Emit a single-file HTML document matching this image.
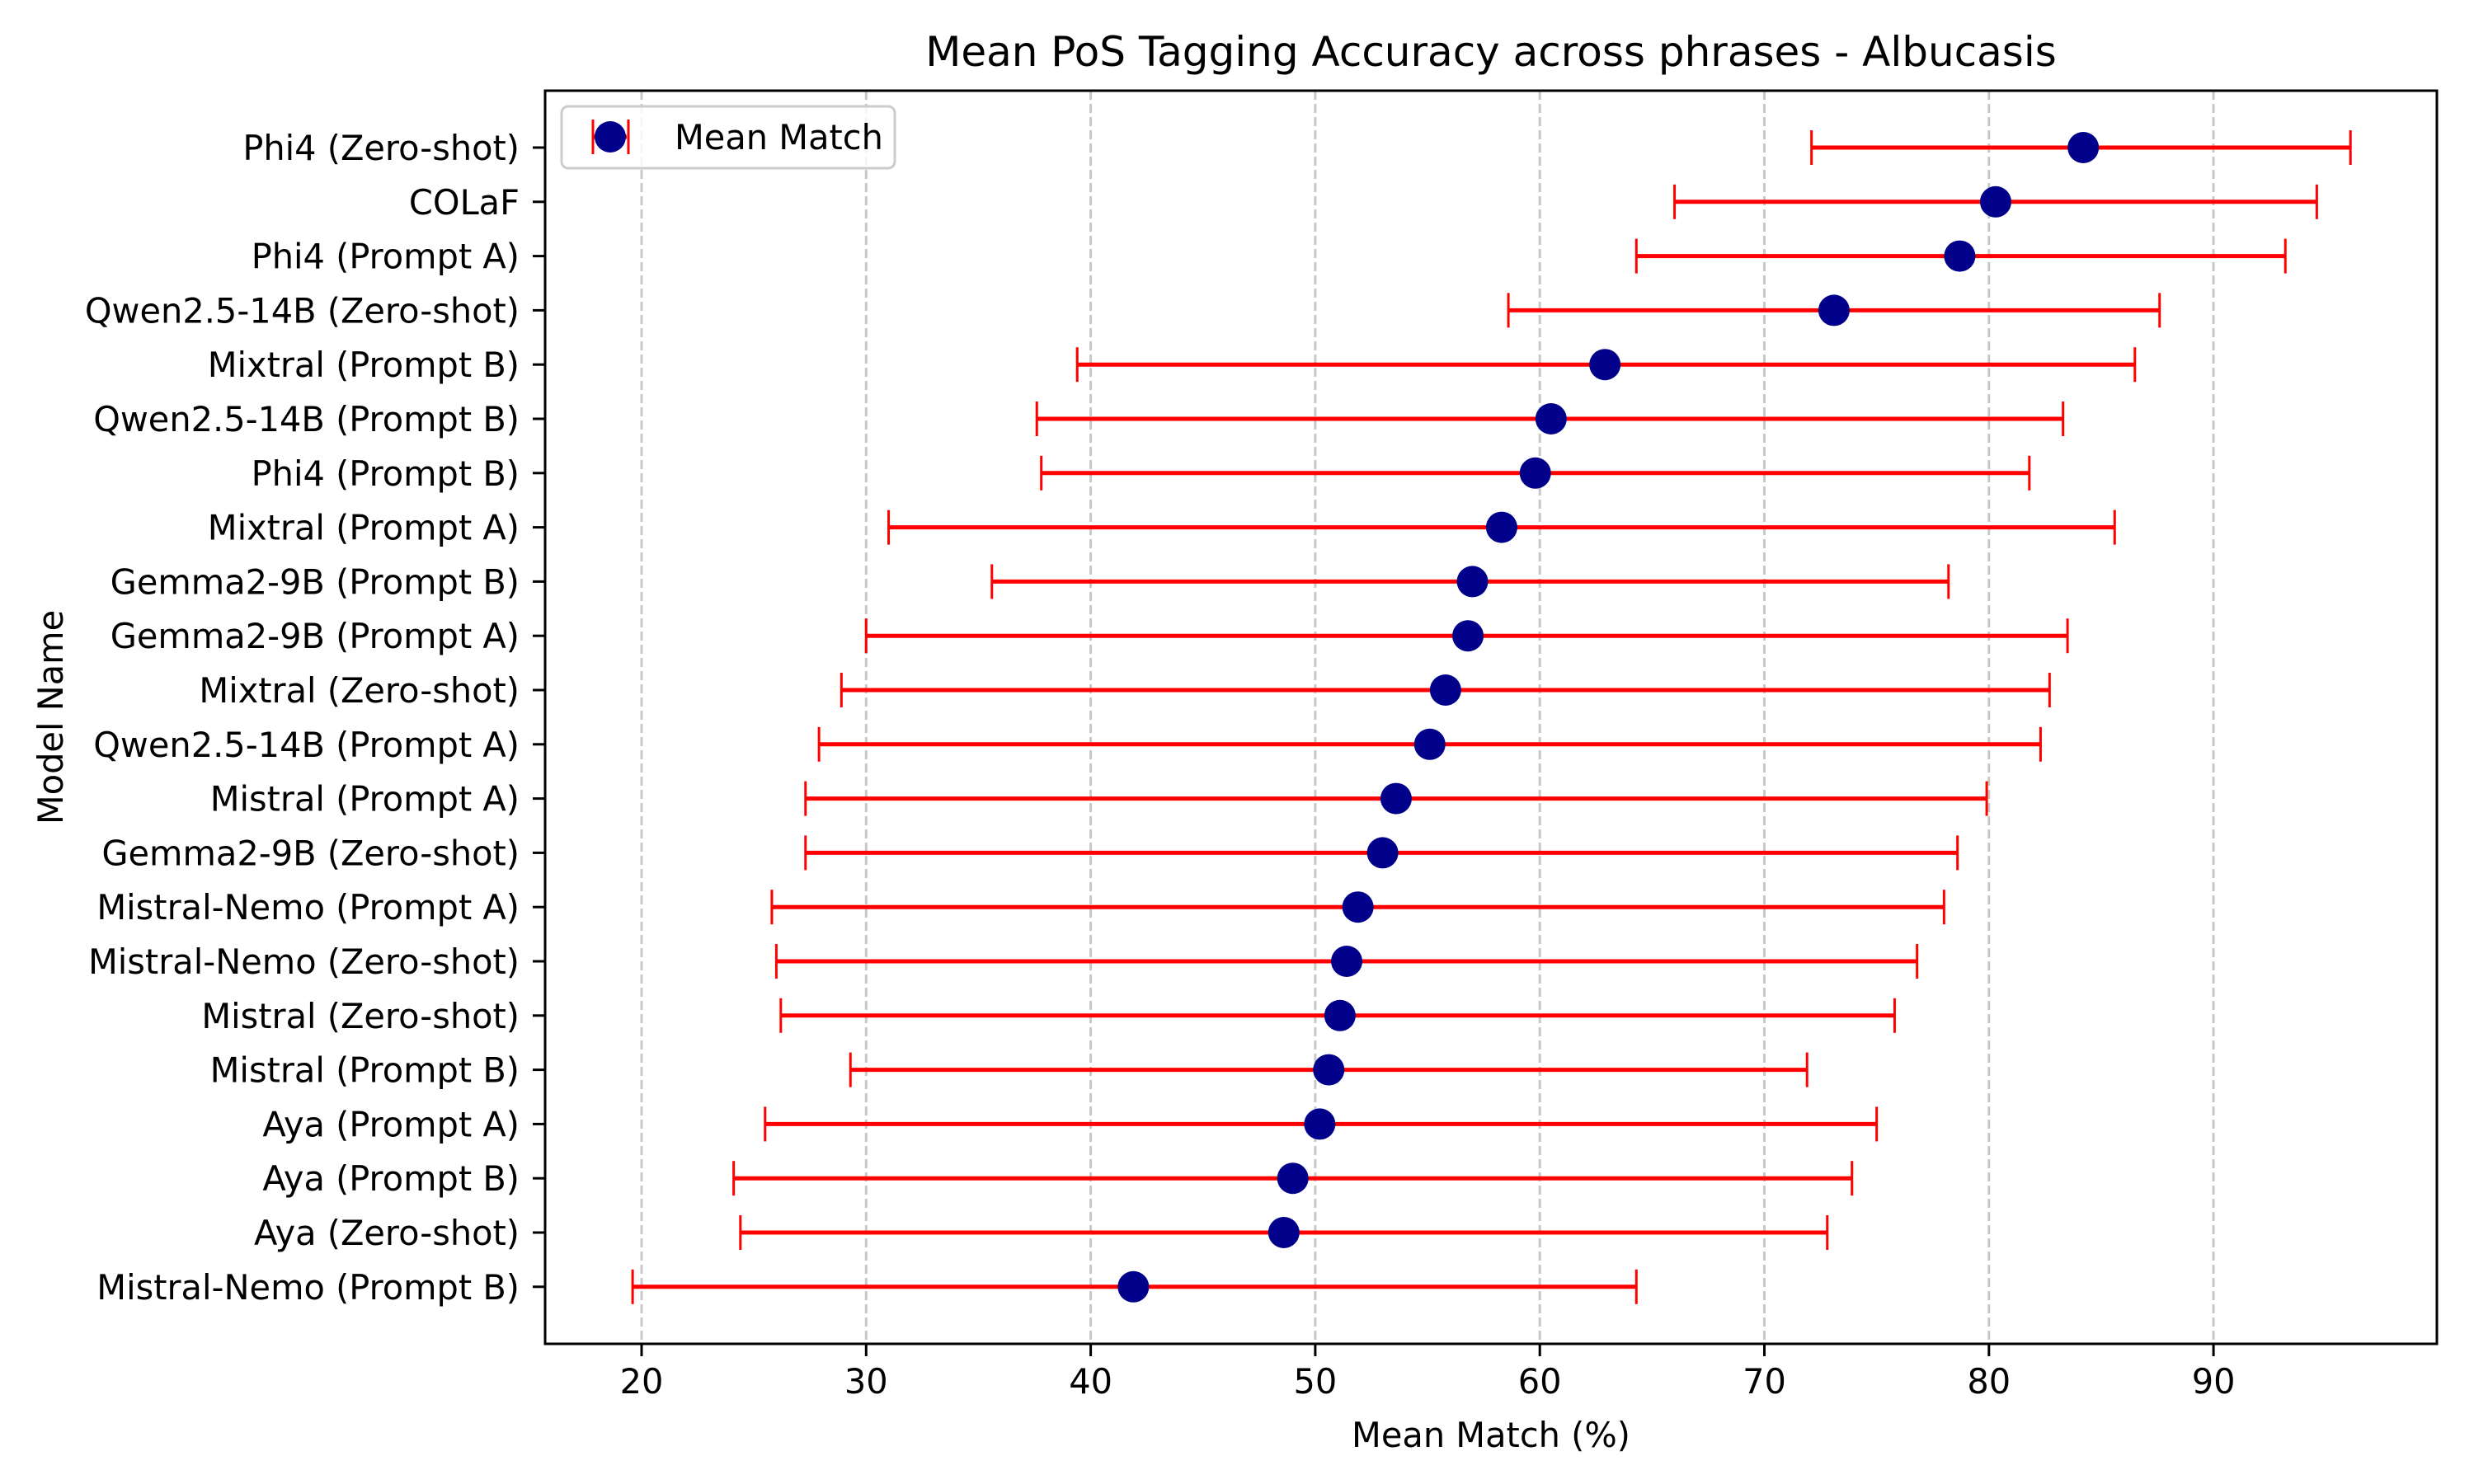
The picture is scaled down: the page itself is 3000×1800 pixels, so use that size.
<!DOCTYPE html>
<html><head><meta charset="utf-8"><style>
html,body{margin:0;padding:0;background:#fff}
svg{display:block;font-family:"DejaVu Sans","Liberation Sans",sans-serif}
</style></head><body>
<svg id="chart" width="3000" height="1800" viewBox="0 0 3000 1800" xmlns="http://www.w3.org/2000/svg">
<rect width="3000" height="1800" fill="#fff"/>
<text x="1808" y="80" text-anchor="middle" font-size="50" fill="#000">Mean PoS Tagging Accuracy across phrases - Albucasis</text>
<text x="1808" y="1755" text-anchor="middle" font-size="41.5" fill="#000">Mean Match (%)</text>
<text transform="translate(76,870) rotate(-90)" text-anchor="middle" font-size="41.5" fill="#000">Model Name</text>
<g id="grid"></g>
<g id="marks"></g>
<g id="axes"></g>
<g id="legend">
<rect x="681" y="129" width="404" height="75" rx="8" fill="#fff" fill-opacity="0.8" stroke="#ccc" stroke-width="3"/>
<line x1="720" y1="166" x2="760" y2="166" stroke="red" stroke-width="5"/>
<line x1="719" y1="145" x2="719" y2="187" stroke="red" stroke-width="3"/>
<line x1="762" y1="145" x2="762" y2="187" stroke="red" stroke-width="3"/>
<ellipse cx="740" cy="166" rx="19" ry="19" fill="#00008b"/>
<text x="818" y="181" font-size="41.5" fill="#000">Mean Match</text>
</g>
</svg>
<script>
const categories = ["Phi4 (Zero-shot)","COLaF","Phi4 (Prompt A)","Qwen2.5-14B (Zero-shot)","Mixtral (Prompt B)","Qwen2.5-14B (Prompt B)","Phi4 (Prompt B)","Mixtral (Prompt A)","Gemma2-9B (Prompt B)","Gemma2-9B (Prompt A)","Mixtral (Zero-shot)","Qwen2.5-14B (Prompt A)","Mistral (Prompt A)","Gemma2-9B (Zero-shot)","Mistral-Nemo (Prompt A)","Mistral-Nemo (Zero-shot)","Mistral (Zero-shot)","Mistral (Prompt B)","Aya (Prompt A)","Aya (Prompt B)","Aya (Zero-shot)","Mistral-Nemo (Prompt B)"];
const means = [84.2,80.3,78.7,73.1,62.9,60.5,59.8,58.3,57.0,56.8,55.8,55.1,53.6,53.0,51.9,51.4,51.1,50.6,50.2,49.0,48.6,41.9];
const lows = [72.1,66.0,64.3,58.6,39.4,37.6,37.8,31.0,35.6,30.0,28.9,27.9,27.3,27.3,25.8,26.0,26.2,29.3,25.5,24.1,24.4,19.6];
const highs = [96.1,94.6,93.2,87.6,86.5,83.3,81.8,85.6,78.2,83.5,82.7,82.3,79.9,78.6,78.0,76.8,75.8,71.9,75.0,73.9,72.8,64.3];
const xTicks = [20,30,40,50,60,70,80,90];

const L=661,R=2955,T=110,B=1630;
const x = v => 778 + (v-20)*27.23;
const y = i => 179 + i*65.8;
const NS="http://www.w3.org/2000/svg";
function mk(tag, attrs, parent){const e=document.createElementNS(NS,tag);for(const k in attrs)e.setAttribute(k,attrs[k]);parent.appendChild(e);return e;}
const grid=document.getElementById('grid'), marks=document.getElementById('marks'), axes=document.getElementById('axes');

xTicks.forEach(t=>{
  const g=mk('line',{x1:x(t),x2:x(t),y1:T,y2:B,stroke:'#b0b0b0','stroke-opacity':0.7,'stroke-width':3,'stroke-dasharray':'11,5'},grid);
  
  
  const tk=mk('line',{x1:x(t),x2:x(t),y1:B,y2:B+15,stroke:'#000','stroke-width':3},axes);
  
  
  const tl=mk('text',{x:x(t),y:B+60,'text-anchor':'middle','font-size':41.5,fill:'#000'},axes);
  tl.textContent=t;
  
  
});

categories.forEach((c,i)=>{
  const yy=y(i);
  const bar=mk('line',{x1:x(lows[i]),x2:x(highs[i]),y1:yy,y2:yy,stroke:'red','stroke-width':5},marks);
  
  
  [lows[i],highs[i]].forEach(v=>{
    const cp=mk('line',{x1:x(v),x2:x(v),y1:yy-21,y2:yy+21,stroke:'red','stroke-width':3},marks);
    
    
  });
  const pt=mk('circle',{cx:x(means[i]),cy:yy,r:19,fill:'#00008b'},marks);
  
  
  const tk=mk('line',{x1:L-15,x2:L,y1:yy,y2:yy,stroke:'#000','stroke-width':3},axes);
  
  
  const tl=mk('text',{x:L-31,y:yy+15,'text-anchor':'end','font-size':41.5,fill:'#000'},axes);
  tl.textContent=c;
  
  
});

const frame=mk('rect',{x:L,y:T,width:R-L,height:B-T,fill:'none',stroke:'#000','stroke-width':3},axes);


</script>
</body></html>
